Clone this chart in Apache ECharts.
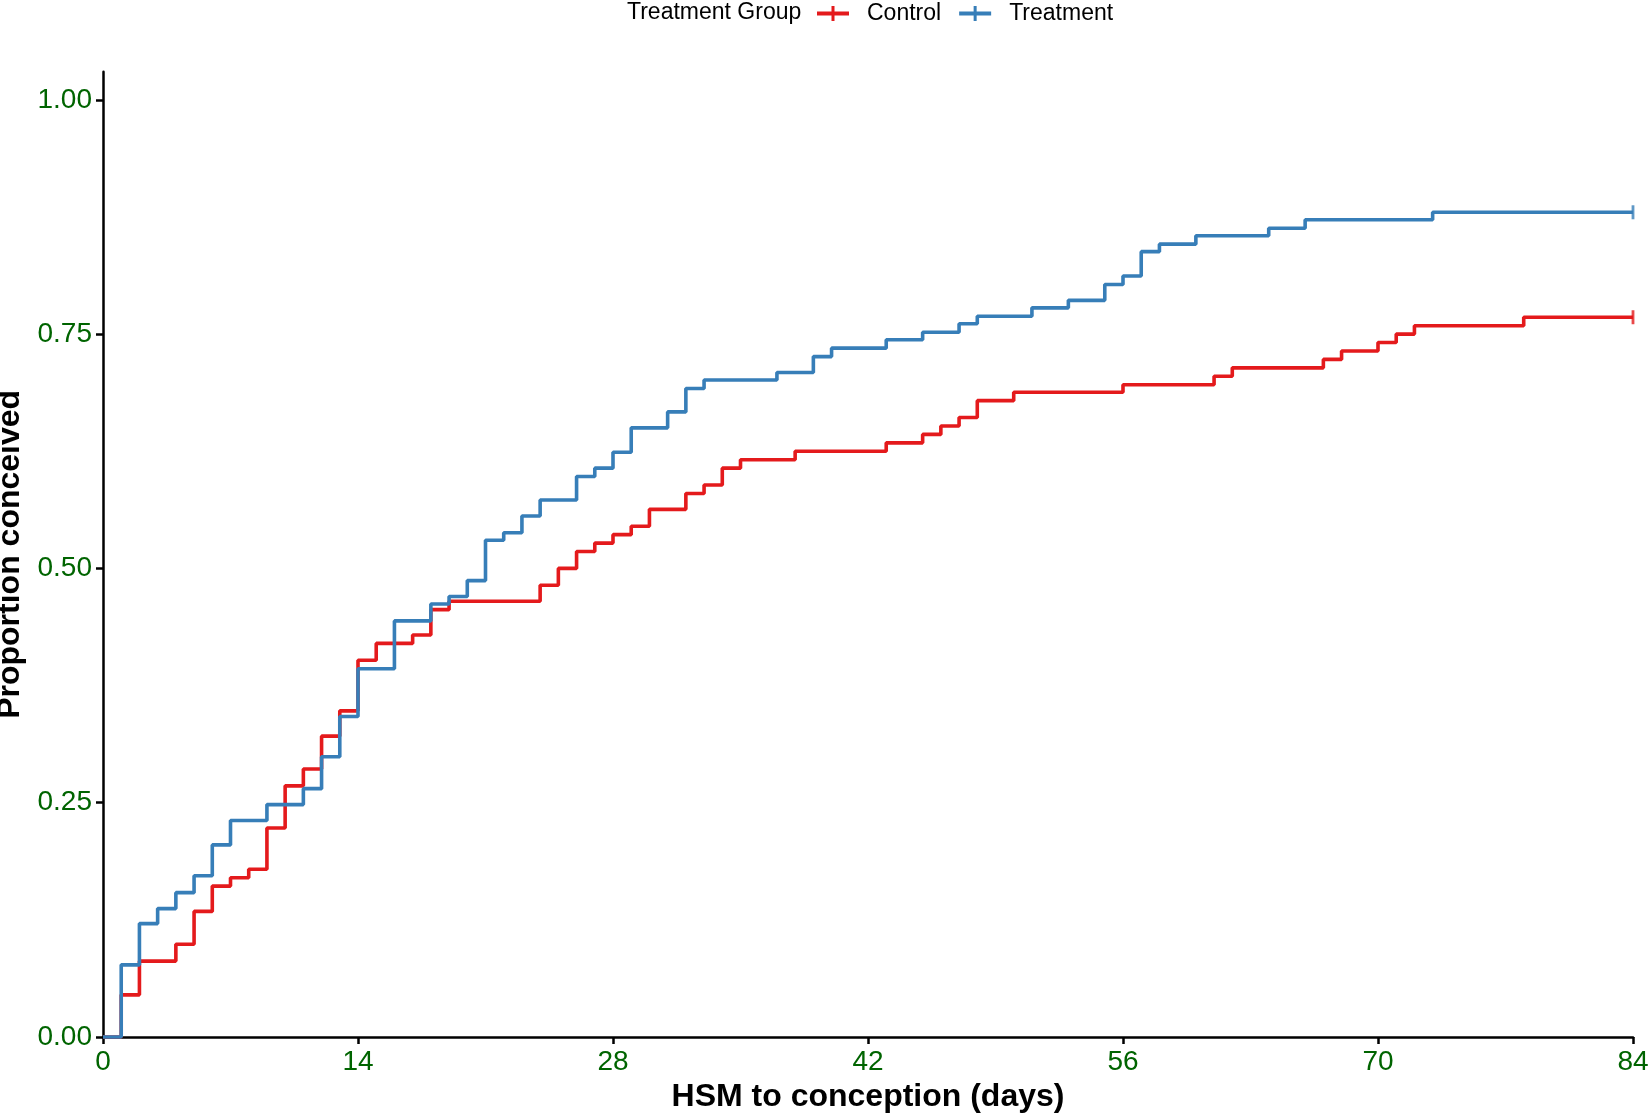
<!DOCTYPE html>
<html>
<head>
<meta charset="utf-8">
<script src="https://cdn.jsdelivr.net/npm/echarts@6/dist/echarts.min.js"></script>
<style>
html,body{margin:0;padding:0;background:#fff;}
#chart{width:1648px;height:1113px;}
</style>
</head>
<body>
<div id="chart"></div>
<script>
// Kaplan-Meier style cumulative proportion conceived (step values)
var controlDays = [0,1,2,4,5,6,7,8,9,10,11,12,13,14,15,17,18,19,24,25,26,27,28,29,30,32,33,34,35,38,43,45,46,47,48,50,56,61,62,67,68,70,71,72,78,84];
var controlProp = [0,0.045,0.081,0.099,0.134,0.161,0.170,0.179,0.223,0.268,0.286,0.321,0.348,0.402,0.420,0.429,0.456,0.465,0.482,0.500,0.518,0.527,0.536,0.545,0.563,0.580,0.589,0.607,0.616,0.625,0.634,0.643,0.652,0.661,0.679,0.688,0.696,0.705,0.714,0.723,0.732,0.741,0.750,0.759,0.768,0.768];

var treatDays = [0,1,2,3,4,5,6,7,9,11,12,13,14,16,18,19,20,21,22,23,24,26,27,28,29,31,32,33,37,39,40,43,45,47,48,51,53,55,56,57,58,60,64,66,73,84];
var treatProp = [0,0.077,0.121,0.137,0.154,0.172,0.205,0.231,0.248,0.265,0.299,0.342,0.393,0.444,0.462,0.470,0.487,0.530,0.538,0.556,0.573,0.598,0.607,0.624,0.650,0.667,0.692,0.701,0.709,0.726,0.735,0.744,0.752,0.761,0.769,0.778,0.786,0.803,0.812,0.838,0.846,0.855,0.863,0.872,0.880,0.880];

var xTicks = [0,14,28,42,56,70,84];
var yTicks = [0,0.25,0.5,0.75,1];

var groupNames = ['Control','Treatment'];
var groupColors = ['#E41A1C','#377EB8'];

function pairs(xs, ys){ return xs.map(function(x,i){ return [x, ys[i]]; }); }
function lastPoint(xs, ys){ return [[xs[xs.length-1], ys[ys.length-1]]]; }

var FONT = 'Liberation Sans, Arial, Helvetica, sans-serif';
var LABEL_GREEN = '#006400';
var legendIcon = 'path://M0,5.5h32v4h-32z M14.5,0h3v15h-3z';

var chart = echarts.init(document.getElementById('chart'), null, {renderer:'canvas'});
var option = {
  animation: false,
  backgroundColor: '#ffffff',
  title: {
    text: 'Treatment Group',
    left: 627, top: 1, padding: 0,
    textStyle: {fontFamily: FONT, fontSize: 23, fontWeight: 'normal', color: '#000'}
  },
  legend: {
    left: 817, top: 2, padding: 0,
    itemWidth: 32, itemHeight: 15, itemGap: 18,
    symbolKeepAspect: false,
    itemStyle: {borderWidth: 0},
    textStyle: {fontFamily: FONT, fontSize: 23, color: '#000', padding: [0,0,0,13]},
    data: [
      {name: groupNames[0], icon: legendIcon},
      {name: groupNames[1], icon: legendIcon}
    ]
  },
  grid: {left: 103, right: 15, top: 71.7, bottom: 76, containLabel: false, outerBoundsMode: 'none'},
  xAxis: {
    type: 'value', min: xTicks[0], max: xTicks[xTicks.length-1], interval: 14,
    name: 'HSM to conception (days)', nameLocation: 'middle', nameGap: 42,
    nameTextStyle: {fontFamily: FONT, fontSize: 32, fontWeight: 'bold', color: '#000'},
    axisLine: {show: true, onZero: false, lineStyle: {color: '#000', width: 2.5}},
    axisTick: {show: true, length: 7, lineStyle: {color: '#000', width: 2.5}},
    axisLabel: {show: true, margin: 11, fontFamily: FONT, fontSize: 28, color: LABEL_GREEN,
      showMinLabel: true, showMaxLabel: true, hideOverlap: false},
    splitLine: {show: false}
  },
  yAxis: {
    type: 'value', min: 0, max: 1.03, interval: 0.25,
    name: 'Proportion conceived', nameLocation: 'middle', nameGap: 67, nameRotate: 90,
    nameTextStyle: {fontFamily: FONT, fontSize: 32, fontWeight: 'bold', color: '#000'},
    axisLine: {show: true, onZero: false, lineStyle: {color: '#000', width: 2.5}},
    axisTick: {show: true, length: 7, customValues: yTicks, lineStyle: {color: '#000', width: 2.5}},
    axisLabel: {show: true, margin: 11, fontFamily: FONT, fontSize: 28, color: LABEL_GREEN,
      customValues: yTicks, formatter: function(v){ return Number(v).toFixed(2); }},
    splitLine: {show: false}
  },
  series: [
    {
      name: groupNames[0], type: 'line', step: 'end', data: pairs(controlDays, controlProp),
      showSymbol: false, symbol: 'none', clip: false,
      lineStyle: {color: groupColors[0], width: 3.6}, itemStyle: {color: groupColors[0], borderWidth: 0}, z: 2
    },
    {
      name: groupNames[1], type: 'line', step: 'end', data: pairs(treatDays, treatProp),
      showSymbol: false, symbol: 'none', clip: false,
      lineStyle: {color: groupColors[1], width: 3.6}, itemStyle: {color: groupColors[1], borderWidth: 0}, z: 3
    },
    {
      name: groupNames[0] + ' censored', type: 'scatter', data: lastPoint(controlDays, controlProp),
      symbol: 'path://M0,0h2v14h-2z', symbolSize: [2.8, 14], clip: false,
      itemStyle: {color: groupColors[0]}, z: 4, silent: true
    },
    {
      name: groupNames[1] + ' censored', type: 'scatter', data: lastPoint(treatDays, treatProp),
      symbol: 'path://M0,0h2v14h-2z', symbolSize: [2.8, 14], clip: false,
      itemStyle: {color: groupColors[1]}, z: 4, silent: true
    }
  ]
};
chart.setOption(option);
</script>
</body>
</html>
